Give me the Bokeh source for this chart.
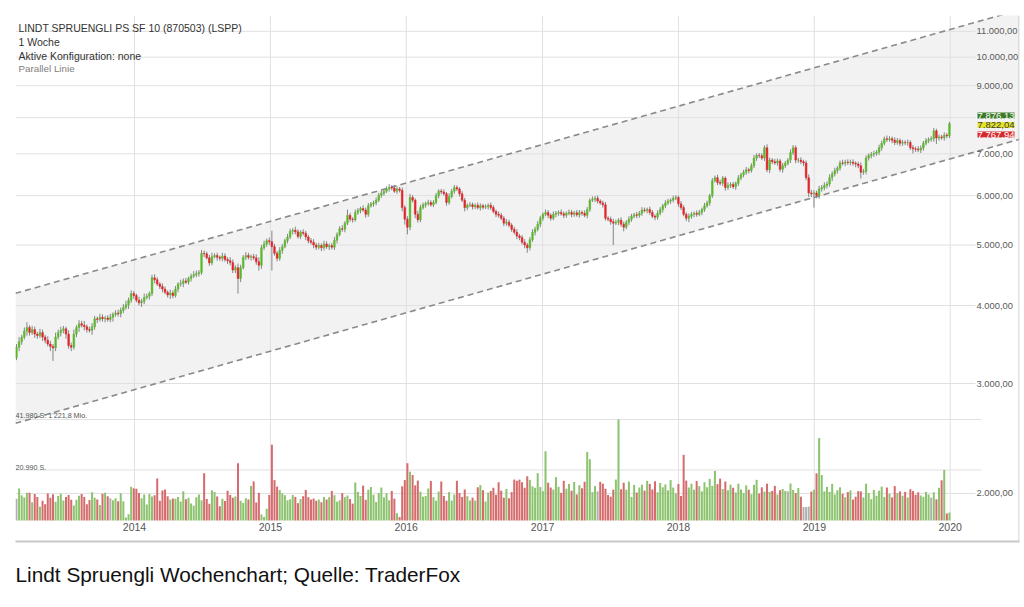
import pandas as pd
from bokeh.plotting import figure
from bokeh.models import Range1d, FixedTicker, DatetimeTickFormatter, Label, Span, LinearScale, Title
from bokeh.core.properties import value
from bokeh.embed import file_html
from bokeh.resources import INLINE

# ---------------- data ----------------
first_week = "2013-02-18"
first_open = 3300
closes = [
    3430, 3500, 3560, 3640, 3690, 3620, 3660, 3600, 3580, 3620,
    3560, 3520, 3470, 3440, 3420, 3560, 3620, 3650, 3670, 3600,
    3450, 3430, 3600, 3690, 3740, 3720, 3700, 3660, 3650, 3700,
    3810, 3800, 3830, 3810, 3820, 3800, 3830, 3870, 3890, 3880,
    3930, 3970, 4010, 4080, 4180, 4150, 4080, 4040, 4060, 4120,
    4140, 4180, 4430, 4400, 4330, 4290, 4250, 4200, 4160, 4190,
    4150, 4250, 4330, 4340, 4380, 4360, 4420, 4460, 4480, 4500,
    4520, 4850, 4840, 4770, 4680, 4790, 4810, 4780, 4760, 4800,
    4740, 4720, 4690, 4560, 4600, 4420, 4600, 4780, 4810, 4780,
    4790, 4770, 4700, 4640, 4950, 5020, 5080, 5060, 4970, 4850,
    4760, 4900, 4970, 5080, 5150, 5260, 5280, 5250, 5160, 5240,
    5220, 5150, 5080, 5050, 5000, 4960, 4990, 4950, 5020, 4970,
    4990, 4960, 5090, 5200, 5310, 5300, 5420, 5580, 5500, 5490,
    5640, 5680, 5720, 5690, 5600, 5780, 5820, 5840, 5900, 6010,
    6050, 6100, 6150, 6180, 6170, 6100, 6150, 6120, 5740, 5500,
    5340, 5960, 5900, 5600, 5490, 5740, 5800, 5830, 5850, 5800,
    5850, 6000, 6100, 6080, 6040, 5850, 5980, 6100, 6180, 6150,
    6040, 5900, 5740, 5790, 5800, 5760, 5790, 5740, 5780, 5750,
    5760, 5790, 5740, 5660, 5600, 5580, 5520, 5420, 5440, 5380,
    5300, 5240, 5170, 5140, 5050, 5000, 4950, 5100, 5240, 5300,
    5400, 5520, 5600, 5640, 5580, 5520, 5600, 5620, 5640, 5610,
    5580, 5620, 5640, 5600, 5630, 5590, 5640, 5620, 5580, 5700,
    5900, 5920, 5940, 5880, 5840, 5800, 5520, 5500, 5450, 5420,
    5440, 5480, 5400, 5340, 5440, 5500, 5560, 5590, 5580, 5620,
    5690, 5680, 5700, 5640, 5560, 5540, 5620, 5700, 5780, 5840,
    5880, 5900, 5940, 5960, 5820, 5740, 5600, 5520, 5560, 5600,
    5620, 5600, 5640, 5700, 5780, 5840, 6000, 6340, 6410, 6300,
    6280, 6400, 6180, 6230, 6250, 6200, 6280, 6400, 6480, 6540,
    6600, 6580, 6700, 6890, 6960, 6950, 6890, 7160, 6600, 6840,
    6800, 6770, 6820, 6610, 6700, 6760, 6840, 7030, 7160, 6840,
    6840, 6800, 6770, 6410, 6060, 6040, 6060, 6000, 6150, 6180,
    6230, 6260, 6410, 6500, 6580, 6640, 6770, 6760, 6790, 6780,
    6790, 6760, 6740, 6700, 6540, 6560, 6890, 6960, 6990, 7010,
    7040, 7160, 7280, 7400, 7380, 7400, 7360, 7300, 7350, 7280,
    7300, 7290, 7300, 7160, 7130, 7120, 7100, 7150, 7280, 7350,
    7380, 7400, 7620, 7420, 7450, 7430, 7500, 7480, 7822,
]
wick_hi = [
    40, 60, 30, 50, 70, 30, 50, 40, 30, 50,
    40, 30, 50, 40, 30, 60, 40, 50, 40, 30,
    50, 40, 60, 30, 50, 40, 60, 30, 40, 50,
    40, 30, 50, 40, 30, 40, 50, 30, 40, 50,
    40, 50, 60, 40, 50, 40, 30, 50, 40, 60,
    40, 30, 50, 60, 40, 30, 50, 40, 30, 50,
    40, 50, 30, 60, 40, 50, 30, 40, 60, 50,
    40, 60, 50, 40, 50, 70, 40, 50, 30, 60,
    50, 40, 60, 50, 40, 70, 50, 40, 60, 50,
    40, 50, 60, 80, 50, 60, 40, 60, 210, 50,
    40, 60, 50, 40, 60, 50, 40, 70, 50, 40,
    60, 50, 40, 50, 60, 40, 50, 40, 60, 50,
    40, 50, 60, 40, 50, 70, 40, 120, 50, 40,
    60, 50, 40, 70, 50, 60, 40, 50, 60, 50,
    70, 50, 60, 80, 60, 70, 50, 40, 60, 50,
    60, 80, 50, 40, 70, 60, 50, 40, 60, 50,
    50, 60, 40, 50, 60, 40, 70, 50, 60, 50,
    40, 60, 50, 40, 60, 50, 40, 60, 50, 40,
    50, 40, 60, 50, 40, 60, 50, 40, 60, 50,
    40, 50, 60, 40, 50, 60, 40, 50, 60, 50,
    60, 50, 40, 60, 50, 40, 60, 50, 40, 60,
    50, 40, 60, 50, 40, 60, 50, 40, 60, 50,
    40, 60, 50, 60, 40, 50, 60, 40, 50, 60,
    50, 40, 60, 50, 40, 60, 50, 40, 60, 50,
    60, 50, 40, 60, 50, 40, 60, 50, 40, 60,
    50, 40, 60, 50, 40, 60, 50, 40, 60, 50,
    40, 60, 50, 40, 60, 50, 40, 60, 50, 70,
    60, 50, 40, 70, 50, 60, 40, 70, 50, 60,
    70, 50, 60, 80, 50, 60, 70, 60, 90, 60,
    50, 70, 60, 50, 70, 60, 50, 80, 70, 60,
    60, 70, 50, 60, 80, 70, 60, 50, 70, 60,
    70, 60, 80, 60, 70, 50, 60, 80, 60, 70,
    60, 70, 50, 60, 80, 60, 70, 50, 60, 70,
    60, 80, 70, 60, 90, 70, 60, 80, 70, 60,
    70, 60, 80, 60, 70, 60, 80, 70, 60, 70,
    60, 70, 80, 60, 70, 60, 80, 60, 54,
]
wick_lo = [
    30, 50, 40, 30, 60, 40, 30, 50, 40, 30,
    50, 40, 30, 60, 160, 40, 30, 50, 40, 60,
    40, 50, 30, 40, 60, 30, 50, 40, 30, 60,
    40, 50, 30, 40, 50, 30, 40, 60, 30, 40,
    50, 40, 30, 60, 40, 50, 30, 40, 60, 40,
    30, 50, 40, 60, 30, 40, 50, 30, 40, 60,
    40, 30, 50, 40, 60, 30, 40, 50, 30, 40,
    50, 40, 60, 30, 50, 40, 30, 60, 40, 50,
    40, 60, 50, 50, 50, 240, 60, 30, 50, 40,
    60, 40, 50, 90, 60, 40, 50, 60, 420, 40,
    50, 40, 60, 30, 50, 40, 60, 50, 40, 50,
    40, 60, 50, 40, 60, 50, 40, 60, 50, 40,
    60, 40, 50, 60, 40, 50, 60, 40, 50, 60,
    40, 50, 60, 40, 70, 50, 40, 60, 50, 40,
    60, 50, 40, 60, 50, 40, 60, 50, 80, 110,
    140, 60, 50, 80, 60, 50, 40, 60, 50, 40,
    50, 40, 60, 50, 40, 70, 50, 40, 60, 50,
    60, 40, 80, 50, 40, 60, 50, 40, 60, 50,
    40, 60, 50, 40, 60, 50, 40, 60, 50, 40,
    50, 40, 60, 50, 40, 60, 90, 50, 40, 60,
    40, 60, 50, 40, 60, 50, 40, 60, 50, 40,
    60, 50, 40, 60, 50, 40, 60, 50, 40, 60,
    50, 40, 60, 50, 40, 60, 50, 40, 60, 420,
    40, 60, 50, 80, 40, 60, 50, 40, 60, 50,
    50, 40, 60, 50, 40, 60, 50, 40, 60, 50,
    40, 60, 50, 40, 60, 50, 40, 60, 80, 50,
    60, 50, 40, 60, 50, 40, 60, 50, 40, 60,
    50, 60, 70, 50, 60, 50, 70, 60, 50, 60,
    60, 70, 50, 60, 70, 60, 50, 70, 60, 80,
    60, 50, 70, 60, 80, 60, 50, 70, 60, 80,
    70, 60, 80, 60, 90, 70, 300, 60, 70, 60,
    60, 70, 60, 80, 60, 70, 60, 50, 70, 60,
    70, 60, 80, 60, 150, 60, 70, 60, 80, 70,
    60, 70, 80, 60, 70, 60, 80, 70, 60, 80,
    70, 60, 80, 60, 120, 70, 60, 80, 70, 60,
    70, 60, 80, 160, 70, 60, 80, 70, 60,
]
volumes = [
    9000, 13300, 10500, 9600, 11500, 11500, 7600, 11000, 9800, 5700,
    8200, 6800, 11200, 9500, 10900, 7800, 10200, 11100, 8300, 9800,
    10600, 8600, 6200, 8600, 10300, 11000, 9800, 6800, 8500, 11700,
    9500, 8700, 6400, 11100, 11500, 10100, 9200, 8400, 9200, 8000,
    11300, 8000, 1200, 2600, 14000, 13400, 13200, 11400, 9200, 10800,
    6700, 11000, 10000, 10500, 17500, 8200, 12500, 12900, 10100, 8700,
    9100, 9000, 9800, 7900, 12200, 8800, 9500, 7100, 6100, 9700,
    10800, 8400, 19600, 8900, 7000, 12600, 11800, 10000, 5900, 9000,
    8100, 12400, 10600, 9500, 10000, 23800, 8200, 7300, 9200, 8700,
    14300, 16200, 7500, 11500, 2500, 1500, 4900, 10600, 31500, 16800,
    14100, 12700, 11300, 10500, 8400, 8800, 10600, 9800, 7200, 8900,
    10100, 12700, 9700, 8700, 9100, 8200, 8700, 7600, 9800, 8700,
    9700, 12300, 10500, 7800, 8400, 11400, 9700, 10400, 8900, 7000,
    15800, 11900, 10200, 14500, 8600, 12800, 13900, 10700, 7700, 11400,
    13700, 9600, 11300, 8400, 12300, 9100, 3000, 1500, 14200, 16800,
    23800, 20300, 18900, 14600, 16600, 12000, 9900, 10200, 13300, 16400,
    9700, 8200, 12000, 16200, 10200, 8200, 11800, 8300, 10800, 16500,
    11400, 9800, 12900, 10100, 8300, 9500, 8300, 13800, 14700, 12600,
    7900, 11600, 12300, 13600, 10700, 15900, 12400, 9500, 13100, 9200,
    11800, 17000, 16500, 17000, 15900, 13600, 18400, 16900, 14200, 13600,
    19700, 13900, 12200, 28800, 15700, 13700, 12900, 18000, 14000, 11500,
    16500, 13200, 15200, 12400, 16000, 10800, 14700, 13400, 16100, 28500,
    25500, 11800, 14300, 12100, 16100, 15300, 13200, 10600, 9900, 12800,
    17000, 42000, 13000, 15700, 12800, 16200, 9800, 14800, 11600, 13700,
    14900, 12400, 16500, 15200, 12900, 16300, 11700, 15600, 13800, 15000,
    12500, 16800, 13700, 11300, 15200, 10200, 27300, 16600, 13700, 15300,
    12800, 16400, 14300, 12100, 15900, 13800, 17300, 14400, 20600, 15100,
    17400, 13100, 16200, 12600, 14900, 13600, 11600, 15300, 12900, 11400,
    14600, 12800, 10900, 14800, 16900, 11200, 13800, 12000, 15300, 11900,
    12300, 14400, 10800, 12600, 13100, 12300, 12100, 15400, 12700, 11400,
    13500, 9900, 5600, 5600, 5800, 12000, 12800, 19600, 34300, 18900,
    12100, 14000, 11900, 15200, 10800, 12600, 13800, 11100, 9700, 11800,
    12500, 8700, 9900, 12200, 12100, 9600, 15300, 11400, 8900, 12700,
    10300, 12400, 14100, 9800, 13700, 11100, 9600, 14300, 11400, 12100,
    10300, 11900, 9600, 13000, 12300, 10700, 11700, 10400, 9800, 11900,
    10800, 9500, 11700, 8800, 13600, 16700, 21000, 2900, 3300,
]
vol_gray = [0, 36, 223, 296, 302, 303, 304, 351]

price_ticks = [2000, 3000, 4000, 5000, 6000, 7000, 8000, 9000, 10000, 11000]
price_tick_labels = ["2.000,00", "3.000,00", "4.000,00", "5.000,00", "6.000,00",
                     "7.000,00", "8.000,00", "9.000,00", "10.000,00", "11.000,00"]
hidden_price_labels = ["8.000,00"]          # covered by the price tags
vol_ticks = [20990, 41980]
vol_tick_labels = ["20.990 S.", "41.980 S: 1'221,8 Mio."]
year_ticks = ["2014-01-01", "2015-01-01", "2016-01-01", "2017-01-01",
              "2018-01-01", "2019-01-01", "2020-01-01"]

channel_x = ["2013-02-15", "2020-07-05"]
channel_upper = [4184, 11905]
channel_lower = [2590, 7385]

tag_texts = ["7.876,13", "7.822,04", "7.767,94"]
tag_fills = ["#3b7b27", "#e3e32b", "#d3282c"]
tag_text_colors = ["#ffffff", "#3a3a3a", "#ffffff"]

header_lines = ["LINDT SPRUENGLI PS SF 10 (870503) (LSPP)", "1 Woche",
                "Aktive Konfiguration: none", "Parallel Linie"]
caption = "Lindt Spruengli Wochenchart; Quelle: TraderFox"

# ---------------- derived ----------------
FONT = "Liberation Sans"
DAY = 86400000.0
dates = [d.value / 1e6 for d in pd.date_range(first_week, periods=len(closes), freq="7D")]
opens = [first_open] + closes[:-1]
body_top = [max(o, c) for o, c in zip(opens, closes)]
body_bot = [min(o, c) for o, c in zip(opens, closes)]
highs = [t + w for t, w in zip(body_top, wick_hi)]
lows = [b - w for b, w in zip(body_bot, wick_lo)]
up = [c >= o for o, c in zip(opens, closes)]
candle_colors = ["#5cb82e" if u else "#e0262b" for u in up]
vol_colors = ["#b0b0b0" if i in vol_gray else ("#8cc36f" if u else "#d56b6d")
              for i, u in enumerate(up)]

# layout: frame spans page x 15..1019, y 15..541
W, H = 1024, 604
FRAME_LEFT, FRAME_RIGHT, FRAME_TOP, FRAME_BOTTOM = 15, 1019, 15, 541
FRAME_W = FRAME_RIGHT - FRAME_LEFT
week0 = pd.Timestamp(first_week).value / 1e6
px_per_day = 2.606 / 7
x_start = week0 - ((16 - FRAME_LEFT) / px_per_day) * DAY
x_end = week0 + ((FRAME_RIGHT - 16) / px_per_day) * DAY


def px_to_x(px):
    return x_start + (px - FRAME_LEFT) / FRAME_W * (x_end - x_start)


def sy(py):
    return FRAME_BOTTOM - py


year_ms = [pd.Timestamp(s).value / 1e6 for s in year_ticks]
chan_x = [pd.Timestamp(s).value / 1e6 for s in channel_x]

p = figure(width=W, height=H,
           x_range=Range1d(x_start, x_end), y_range=Range1d(1675, 11660),
           x_axis_type="datetime", y_axis_type="log", y_axis_location=None,
           output_backend="svg", toolbar_location=None,
           min_border_left=FRAME_LEFT, min_border_right=W - FRAME_RIGHT,
           min_border_top=FRAME_TOP, min_border_bottom=H - FRAME_BOTTOM,
           outline_line_color=None, background_fill_color="white", border_fill_color="white")
p.extra_y_ranges = {"vol": Range1d(-8730, 209900)}
p.extra_y_scales = {"vol": LinearScale()}
p.xgrid.visible = False
p.ygrid.visible = False

# channel fill
fill = p.varea(x=chan_x, y1=channel_lower, y2=channel_upper, fill_color="#f2f2f2")
fill.level = "image"

# grid lines
p.segment(x0=x_start, y0=price_ticks, x1=px_to_x(975), y1=price_ticks,
          line_color="#e0e0e0", line_width=1)
p.segment(x0=x_start, y0=vol_ticks, x1=px_to_x(981), y1=vol_ticks,
          line_color="#e0e0e0", line_width=1, y_range_name="vol")
p.segment(x0=year_ms, y0=0, x1=year_ms, y1=209900,
          line_color="#e0e0e0", line_width=1, y_range_name="vol")

# channel lines
p.line(chan_x, channel_upper, line_color="#8a8a8a", line_width=1.6, line_dash="6 4")
p.line(chan_x, channel_lower, line_color="#8a8a8a", line_width=1.6, line_dash="6 4")

# volume
p.vbar(x=dates, top=volumes, bottom=0, width=5.4 * DAY, fill_color=vol_colors,
       line_color=None, y_range_name="vol")

# candles
p.segment(x0=dates, y0=lows, x1=dates, y1=highs, line_color="#858585", line_width=1)
p.vbar(x=dates, top=body_top, bottom=body_bot, width=4.6 * DAY,
       fill_color=candle_colors, line_color=candle_colors, line_width=0.5)

# price scale labels (inside the frame, right of the grid lines)
shown = [(t, l) for t, l in zip(price_ticks, price_tick_labels) if l not in hidden_price_labels]
p.text(x=[px_to_x(976)] * len(shown), y=[t for t, _ in shown], text=[l for _, l in shown],
       text_font=value(FONT), text_font_size="9.4px", text_color="#5a5a5a",
       text_baseline="middle", text_align="left")

# right border
p.add_layout(Span(location=px_to_x(FRAME_RIGHT - 0.5), dimension="height",
                  line_color="#c4c4c4", line_width=1))

# x axis (its line is the separator under the chart)
xa = p.xaxis[0]
xa.ticker = FixedTicker(ticks=year_ms)
xa.formatter = DatetimeTickFormatter(years="%Y", months="%Y", days="%Y", hours="%Y")
xa.major_tick_line_color = None
xa.minor_tick_line_color = None
xa.major_tick_in = 0
xa.major_tick_out = 0
xa.axis_line_color = "#c8c8c8"
xa.axis_line_width = 2
xa.major_label_standoff = -19
xa.major_label_text_font = FONT
xa.major_label_text_font_size = "10.5px"
xa.major_label_text_color = "#555555"

# caption below the chart
p.add_layout(Title(text=caption, align="left", offset=0, standoff=38,
                   text_font=FONT, text_font_size="20.8px", text_color="#111111",
                   text_font_style="normal"), "below")

# header texts
header_y = [27, 41.5, 55, 68.3]
header_size = ["10.5px", "10.5px", "10.5px", "9.8px"]
header_col = ["#333333", "#333333", "#333333", "#808080"]
for txt, yy, fs, col in zip(header_lines, header_y, header_size, header_col):
    p.add_layout(Label(x=3, y=sy(yy), x_units="screen", y_units="screen", text=txt,
                       text_font=FONT, text_font_size=fs, text_color=col,
                       text_baseline="middle"))

# volume scale texts
for txt, yy in zip(vol_tick_labels, [467, 415]):
    p.add_layout(Label(x=0, y=sy(yy), x_units="screen", y_units="screen", text=txt,
                       text_font=FONT, text_font_size="7.2px", text_color="#555555",
                       text_baseline="middle"))

# last price tags
for txt, yy, bg, tc in zip(tag_texts, [115, 124.5, 134], tag_fills, tag_text_colors):
    p.add_layout(Label(x=962, y=sy(yy), x_units="screen", y_units="screen", text=txt,
                       text_font=FONT, text_font_size="9.5px", text_color=tc,
                       background_fill_color=bg, text_baseline="middle"))

open("out.html", "w").write(file_html(p, INLINE))
